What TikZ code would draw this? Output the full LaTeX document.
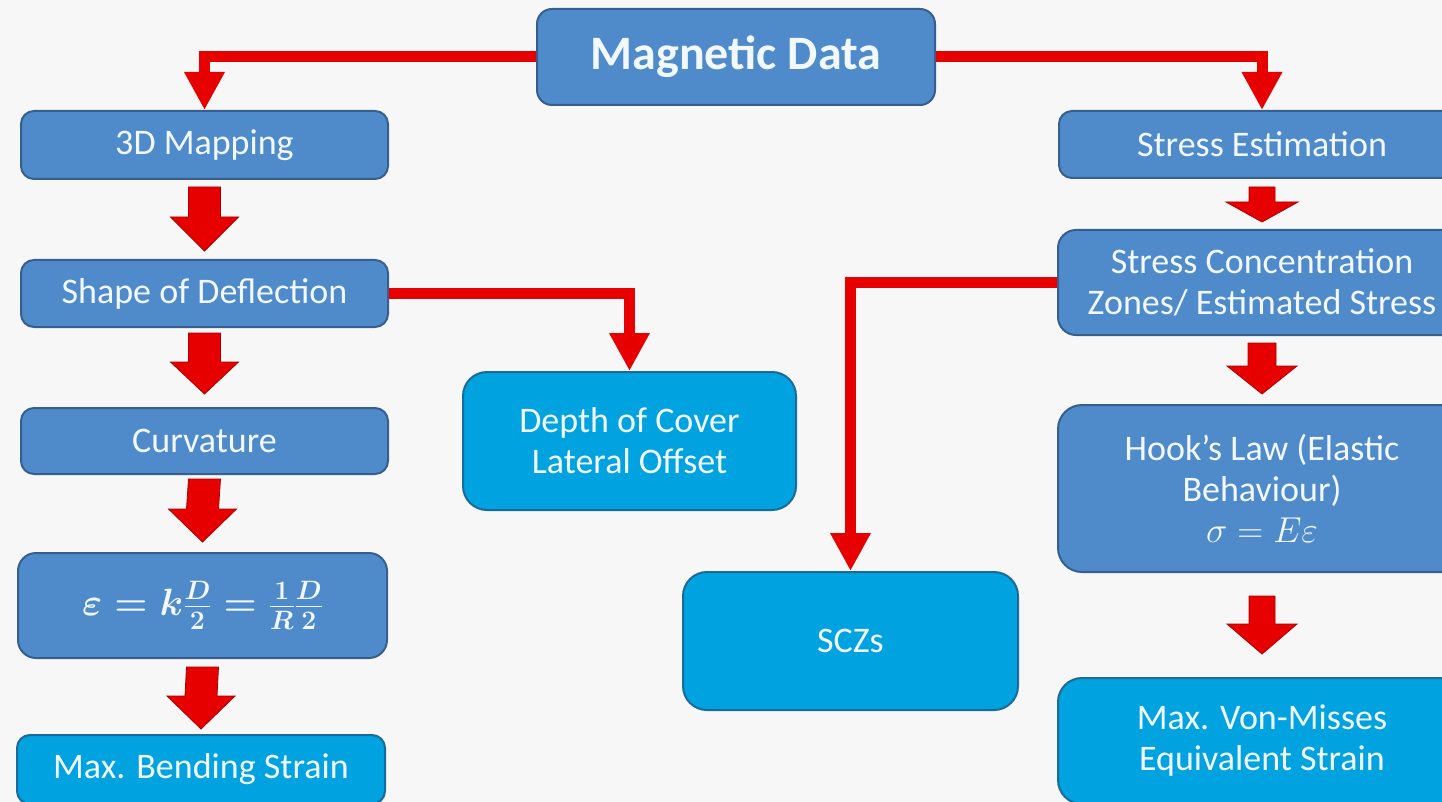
\RequirePackage{fix-cm}
\documentclass[tikz,border=0pt]{standalone}
\usepackage[no-math]{fontspec}
\setmainfont{Carlito}
\usetikzlibrary{arrows.meta,calc}
\definecolor{bg}{HTML}{F7F7F7}
\definecolor{boxblue}{HTML}{4F8BCB}
\definecolor{boxblueline}{HTML}{365F8E}
\definecolor{boxcyan}{HTML}{00A3E0}
\definecolor{boxcyanline}{HTML}{1A6B9A}
\definecolor{arrred}{HTML}{E60000}
\definecolor{arrdark}{HTML}{A80000}
\definecolor{txt}{HTML}{F2F8FF}
\newcommand{\strainformula}{{\mathversion{bold}\ensuremath{\varepsilon = k\frac{D}{2} = \frac{1}{R}\frac{D}{2}}}}
\newcommand{\hookformula}{\ensuremath{\sigma = E\varepsilon}}
\tikzset{
  base/.style={rectangle, rounded corners=#1pt, line width=2pt, text=txt, align=center, inner sep=0pt, font=\fontsize{36}{41}\selectfont},
  bluebox/.style={base=#1, fill=boxblue, draw=boxblueline},
  cyanbox/.style={base=#1, fill=boxcyan, draw=boxcyanline},
  conn/.style={draw=arrred, line width=11pt, -{Triangle[width=38pt,length=38pt,fill=arrred]}},
  blockarrow/.style={fill=arrred, draw=arrdark, line width=0.8pt, line join=miter},
}
% #1 from node, #2 to node, #3 gap below #1, #4 gap above #2, #5 shaft half width, #6 head half width, #7 head length
\newcommand{\blockarr}[7]{%
  \path[blockarrow] ($(#1.south)+(-#5,#3)$) -- ($(#2.north)+(-#5,-#4-#7)$) -- ($(#2.north)+(-#6,-#4-#7)$) -- ($(#2.north)+(0,-#4)$) -- ($(#2.north)+(#6,-#4-#7)$) -- ($(#2.north)+(#5,-#4-#7)$) -- ($(#1.south)+(#5,#3)$) -- cycle;}
\begin{document}
\begin{tikzpicture}[x=1pt,y=-1pt]
\useasboundingbox (0,0) rectangle (1442,802);
\clip (0,0) rectangle (1442,802);
\fill[bg] (0,0) rectangle (1442,802);

% nodes
\node[bluebox=15, minimum width=398pt, minimum height=96pt, font=\bfseries\fontsize{48}{56}\selectfont] (mag) at (736,57) {Magnetic Data};
\node[bluebox=13, minimum width=367pt, minimum height=68pt] (map) at (204.5,145) {3D Mapping};
\node[bluebox=13, minimum width=367pt, minimum height=67pt] (shape) at (204.5,293.5) {Shape of Deflection};
\node[bluebox=13, minimum width=367pt, minimum height=66pt] (curv) at (204.5,441) {Curvature};
\node[bluebox=18, minimum width=369pt, minimum height=105pt, font=\fontsize{38}{44}\selectfont] (formula) at (202.5,605.5) {\strainformula};
\node[cyanbox=13, minimum width=368pt, minimum height=69pt] (bend) at (201,769.5) {Max. Bending Strain};
\node[cyanbox=24, minimum width=333pt, minimum height=138pt] (depth) at (629.5,441) {Depth of Cover\\Lateral Offset};
\node[bluebox=13, minimum width=406pt, minimum height=67pt] (stre) at (1262,144.5) {Stress Estimation};
\node[bluebox=18, minimum width=408pt, minimum height=105pt] (conc) at (1262,282.5) {Stress Concentration\\Zones/ Estimated Stress};
\node[bluebox=24, minimum width=408pt, minimum height=167pt] (hook) at (1262,488.5) {Hook’s Law (Elastic\\Behaviour)\\\hookformula};
\node[cyanbox=24, minimum width=408pt, minimum height=126pt] (vonm) at (1262,741) {Max. Von-Misses\\Equivalent Strain};
\node[cyanbox=24, minimum width=335pt, minimum height=138pt] (sczs) at (850.5,641) {SCZs};

% elbow connectors
\draw[conn] (mag.west) -| (map.north);
\draw[conn] (mag.east) -| (stre.north);
\draw[conn] (shape.east) -| (depth.north);
\draw[conn] (conc.west) -| (sczs.north);

% block arrows
\blockarr{map}{shape}{7}{8}{16}{34}{34}
\blockarr{shape}{curv}{5}{13}{16}{34}{32}
\blockarr{curv}{formula}{4}{10}{16}{34}{33}
\blockarr{formula}{bend}{8}{5}{16}{34}{33}
\blockarr{stre}{conc}{8}{7}{13}{36}{20}
\blockarr{conc}{hook}{7}{10}{14}{35}{28}
\blockarr{hook}{vonm}{23}{23}{13}{35}{30}
\end{tikzpicture}
\end{document}
